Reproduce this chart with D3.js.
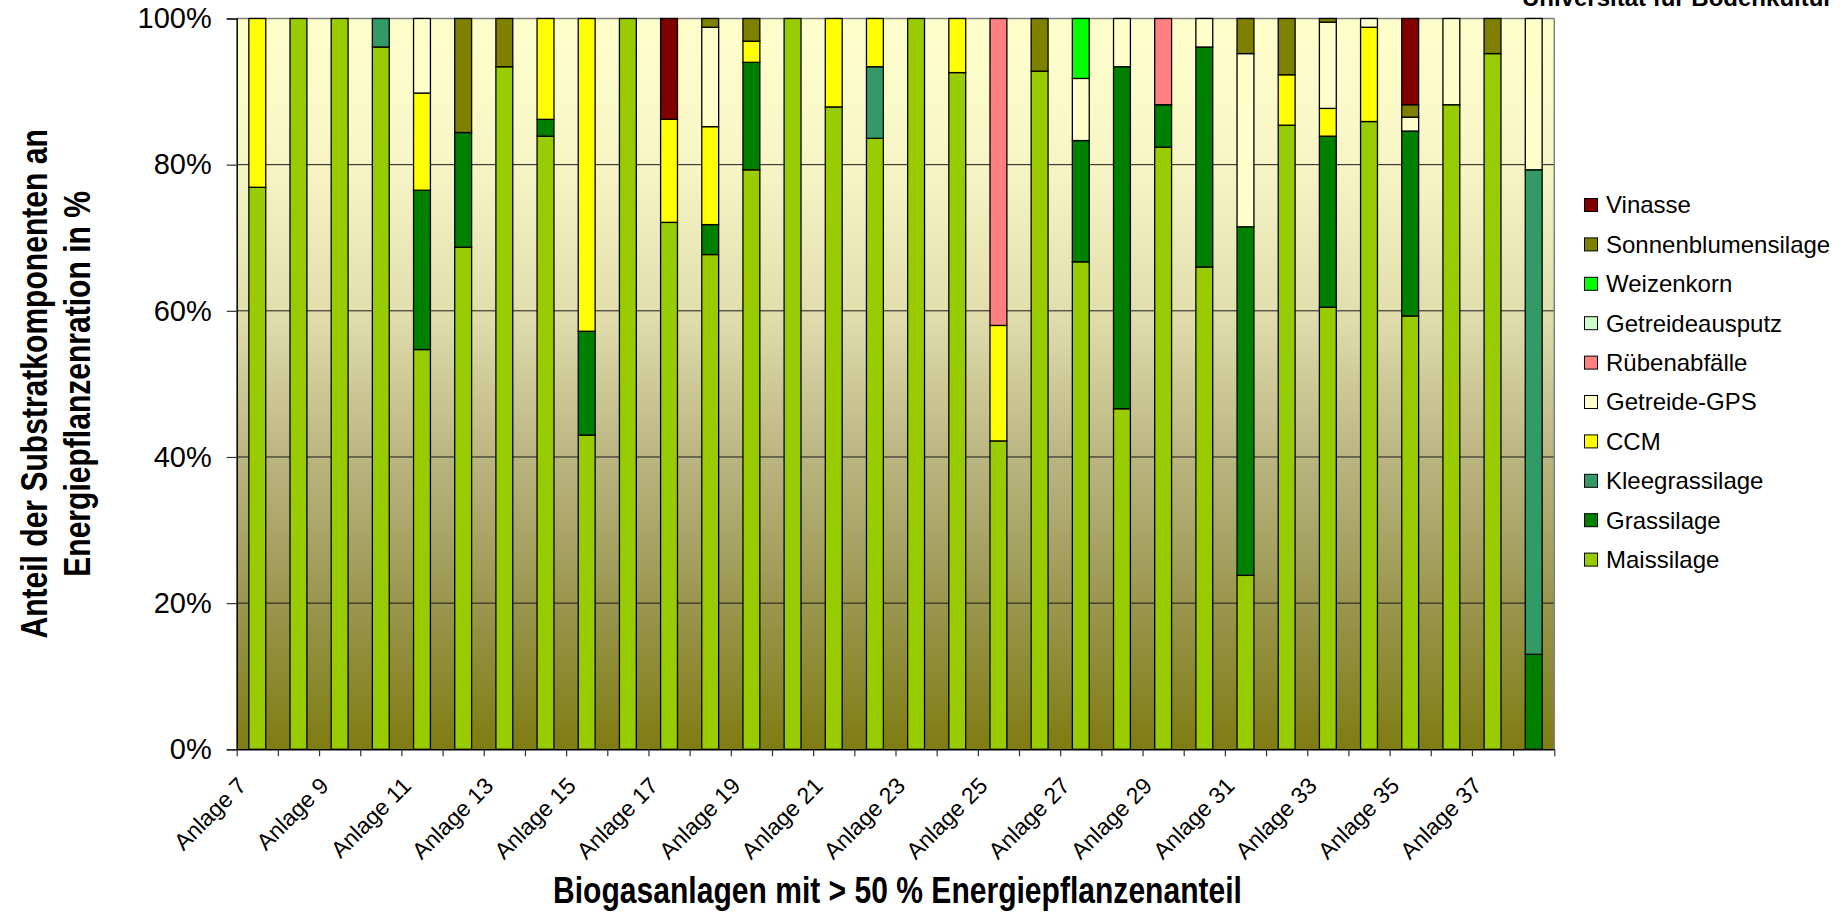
<!DOCTYPE html>
<html>
<head>
<meta charset="utf-8">
<script src="https://cdn.jsdelivr.net/npm/d3@7"></script>
<style>
  html, body { margin: 0; padding: 0; background: #fff; }
  svg { display: block; font-family: "Liberation Sans", Arial, sans-serif; }
</style>
</head>
<body>
<svg id="chart" width="1847" height="915"></svg>
<script>
// Biogas plants with > 50 % energy-crop share: composition of the energy-crop ration (%)
const categories = [
  "Anlage 7", "Anlage 8", "Anlage 9", "Anlage 10", "Anlage 11", "Anlage 12", "Anlage 13", "Anlage 14",
  "Anlage 15", "Anlage 16", "Anlage 17", "Anlage 18", "Anlage 19", "Anlage 20", "Anlage 21", "Anlage 22",
  "Anlage 23", "Anlage 24", "Anlage 25", "Anlage 26", "Anlage 27", "Anlage 28", "Anlage 29", "Anlage 30",
  "Anlage 31", "Anlage 32", "Anlage 33", "Anlage 34", "Anlage 35", "Anlage 36", "Anlage 37", "Anlage 38"
];

// stacking order, bottom to top
const seriesNames = [
  "Maissilage", "Grassilage", "Kleegrassilage", "CCM", "Getreide-GPS",
  "Rübenabfälle", "Getreideausputz", "Weizenkorn", "Sonnenblumensilage", "Vinasse"
];

const maissilage = [76.9, 100, 100, 96.1, 54.7, 68.7, 93.4, 83.9, 43.0, 100, 72.1, 67.7, 79.3, 100, 87.9, 83.6,
                    100, 92.6, 42.2, 92.8, 66.7, 46.6, 82.4, 66.0, 23.8, 85.4, 60.5, 85.9, 59.3, 88.2, 95.2, 0];
const grassilage = [0, 0, 0, 0, 21.8, 15.7, 0, 2.3, 14.2, 0, 0, 4.1, 14.7, 0, 0, 0,
                    0, 0, 0, 0, 16.6, 46.8, 5.8, 30.1, 47.7, 0, 23.4, 0, 25.3, 0, 0, 13.0];
const kleegrassilage = [0, 0, 0, 3.9, 0, 0, 0, 0, 0, 0, 0, 0, 0, 0, 0, 9.8,
                        0, 0, 0, 0, 0, 0, 0, 0, 0, 0, 0, 0, 0, 0, 0, 66.3];
const ccm = [23.1, 0, 0, 0, 13.3, 0, 0, 13.8, 42.8, 0, 14.1, 13.4, 2.9, 0, 12.1, 6.6,
             0, 7.4, 15.8, 0, 0, 0, 0, 0, 0, 6.9, 3.8, 12.9, 0, 0, 0, 0];
const getreideGPS = [0, 0, 0, 0, 10.2, 0, 0, 0, 0, 0, 0, 13.6, 0, 0, 0, 0,
                     0, 0, 0, 0, 8.5, 6.6, 0, 3.9, 23.7, 0, 11.8, 1.2, 1.9, 11.8, 0, 20.7];
const ruebenabfaelle = [0, 0, 0, 0, 0, 0, 0, 0, 0, 0, 0, 0, 0, 0, 0, 0,
                        0, 0, 42.0, 0, 0, 0, 11.8, 0, 0, 0, 0, 0, 0, 0, 0, 0];
const getreideausputz = [0, 0, 0, 0, 0, 0, 0, 0, 0, 0, 0, 0, 0, 0, 0, 0,
                         0, 0, 0, 0, 0, 0, 0, 0, 0, 0, 0, 0, 0, 0, 0, 0];
const weizenkorn = [0, 0, 0, 0, 0, 0, 0, 0, 0, 0, 0, 0, 0, 0, 0, 0,
                    0, 0, 0, 0, 8.2, 0, 0, 0, 0, 0, 0, 0, 0, 0, 0, 0];
const sonnenblumensilage = [0, 0, 0, 0, 0, 15.6, 6.6, 0, 0, 0, 0, 1.2, 3.1, 0, 0, 0,
                            0, 0, 0, 7.2, 0, 0, 0, 0, 4.8, 7.7, 0.5, 0, 1.7, 0, 4.8, 0];
const vinasse = [0, 0, 0, 0, 0, 0, 0, 0, 0, 0, 13.8, 0, 0, 0, 0, 0,
                 0, 0, 0, 0, 0, 0, 0, 0, 0, 0, 0, 0, 11.8, 0, 0, 0];

const seriesColors = ["#99CC00", "#008000", "#339966", "#FFFF00", "#FFFFCC",
                      "#FF8080", "#CCFFCC", "#00FF00", "#808000", "#800000"];

const yTicks = [0, 20, 40, 60, 80, 100];
const xTitle = "Biogasanlagen mit > 50 % Energiepflanzenanteil";
const yTitleLines = ["Anteil der Substratkomponenten an", "Energiepflanzenration in %"];
const cornerTitle = "Universität für Bodenkultur";

// table for d3.stack
const seriesValues = [maissilage, grassilage, kleegrassilage, ccm, getreideGPS,
                      ruebenabfaelle, getreideausputz, weizenkorn, sonnenblumensilage, vinasse];
const table = categories.map((c, i) => {
  const row = { cat: c };
  seriesNames.forEach((s, k) => { row[s] = seriesValues[k][i]; });
  return row;
});

const svg = d3.select("#chart");
const plot = { left: 236.7, right: 1554.3, top: 18.5, bottom: 749.3 };

const x = d3.scaleBand().domain(categories).range([plot.left, plot.right])
  .paddingInner(0.59).paddingOuter(0.295);
const xEdges = d3.scaleLinear().domain([0, categories.length]).range([plot.left, plot.right]);
const y = d3.scaleLinear().domain([0, 100]).range([plot.bottom, plot.top]);
const color = d3.scaleOrdinal().domain(seriesNames).range(seriesColors);

// plot background gradient
const defs = svg.append("defs");
const grad = defs.append("linearGradient").attr("id", "bg").attr("x1", 0).attr("y1", 0).attr("x2", 0).attr("y2", 1);
[[0, "#FFFFCC"], [0.2, "#F7F5C6"], [0.4, "#E2DEAE"], [0.6, "#BAB581"], [0.8, "#9A964F"], [1, "#7F7C12"]]
  .forEach(([o, c]) => grad.append("stop").attr("offset", o).attr("stop-color", c));

svg.append("rect")
  .attr("x", plot.left).attr("y", plot.top)
  .attr("width", plot.right - plot.left).attr("height", plot.bottom - plot.top)
  .attr("fill", "url(#bg)");

// horizontal gridlines
svg.append("g").selectAll("line")
  .data(yTicks.filter(d => d > 0 && d < 100))
  .join("line")
  .attr("x1", plot.left).attr("x2", plot.right)
  .attr("y1", d => y(d)).attr("y2", d => y(d))
  .attr("stroke", "#1a1a1a").attr("stroke-width", 1);

// plot frame (top / right)
svg.append("line").attr("x1", plot.left).attr("x2", plot.right).attr("y1", y(100)).attr("y2", y(100))
  .attr("stroke", "#808080").attr("stroke-width", 1.5);
svg.append("line").attr("x1", plot.right).attr("x2", plot.right).attr("y1", y(100)).attr("y2", y(0))
  .attr("stroke", "#808080").attr("stroke-width", 1.5);

// stacked bars
const stacked = d3.stack().keys(seriesNames)(table);
svg.append("g").selectAll("g")
  .data(stacked)
  .join("g")
  .attr("fill", d => color(d.key))
  .selectAll("rect")
  .data(d => d.filter(p => p[1] - p[0] > 0))
  .join("rect")
  .attr("x", d => x(d.data.cat))
  .attr("width", x.bandwidth())
  .attr("y", d => y(d[1]))
  .attr("height", d => y(d[0]) - y(d[1]))
  .attr("stroke", "#000").attr("stroke-width", 1.3);

// y axis
const yAxis = svg.append("g")
  .attr("transform", `translate(${plot.left},0)`)
  .call(d3.axisLeft(y).tickValues(yTicks).tickFormat(d => d + "%").tickSize(10).tickPadding(15));
yAxis.select(".domain").attr("stroke", "#000").attr("stroke-width", 1.5);
yAxis.selectAll(".tick line").attr("stroke", "#333").attr("stroke-width", 1.2);
yAxis.selectAll(".tick text").attr("font-size", 29).attr("fill", "#000")
  .attr("font-family", "'Liberation Sans', Arial, sans-serif");

// x axis with tick marks at category boundaries
const xAxis = svg.append("g")
  .attr("transform", `translate(0,${plot.bottom})`)
  .call(d3.axisBottom(xEdges).tickValues(d3.range(categories.length + 1)).tickFormat("").tickSize(7).tickSizeOuter(0));
xAxis.select(".domain").attr("stroke", "#000").attr("stroke-width", 1.5);
xAxis.selectAll(".tick line").attr("stroke", "#333").attr("stroke-width", 1.2);

// category labels (every other plant)
svg.append("g").selectAll("text")
  .data(categories.filter((c, i) => i % 2 === 0))
  .join("text")
  .attr("transform", d => `translate(${x(d) + x.bandwidth() / 2 - 9.5},${plot.bottom + 38}) rotate(-45)`)
  .attr("text-anchor", "end")
  .attr("font-size", 23)
  .attr("fill", "#000")
  .text(d => d);

// axis titles
svg.append("text")
  .attr("transform", `translate(${(plot.left + plot.right) / 2 + 2},903) scale(0.835,1)`)
  .attr("text-anchor", "middle")
  .attr("font-size", 36).attr("font-weight", "bold").attr("fill", "#000")
  .text(xTitle);

const yTitle = svg.append("g");
yTitleLines.forEach((line, i) => {
  yTitle.append("text")
    .attr("transform", `translate(${47 + i * 43},${(plot.top + plot.bottom) / 2}) rotate(-90) scale(0.835,1)`)
    .attr("text-anchor", "middle")
    .attr("font-size", 36).attr("font-weight", "bold").attr("fill", "#000")
    .text(line);
});

// corner title (partly outside the page)
svg.append("text")
  .attr("x", 1522).attr("y", 5.5)
  .attr("font-size", 24).attr("font-weight", "bold").attr("fill", "#000")
  .text(cornerTitle);

// legend, top entry = last stacked series
const legendItems = seriesNames.slice().reverse();
const legend = svg.append("g").selectAll("g")
  .data(legendItems)
  .join("g")
  .attr("transform", (d, i) => `translate(1584.5,${205 + i * 39.4})`);
legend.append("rect")
  .attr("x", 0).attr("y", -6.5).attr("width", 13).attr("height", 13)
  .attr("fill", d => color(d)).attr("stroke", "#000").attr("stroke-width", 1);
legend.append("text")
  .attr("x", 21.5).attr("y", 0).attr("dy", "0.35em")
  .attr("font-size", 24).attr("fill", "#000")
  .text(d => d);
</script>
</body>
</html>
